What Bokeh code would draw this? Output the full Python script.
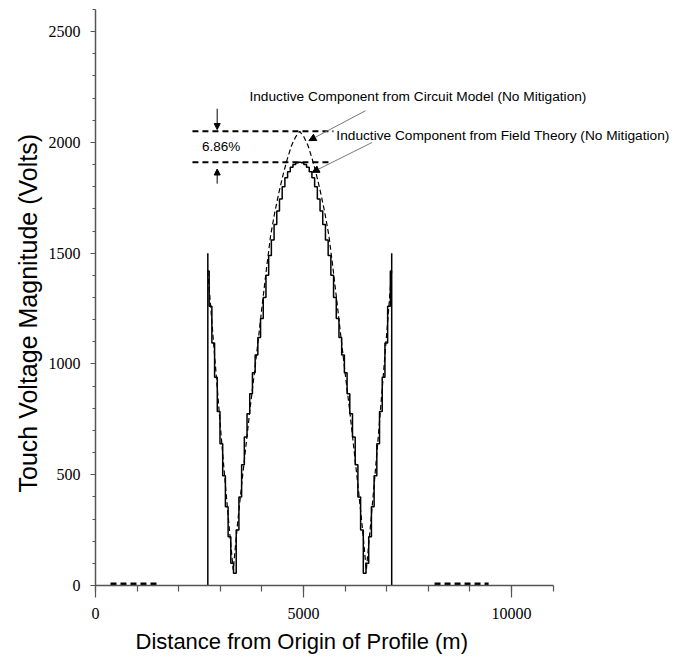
from bokeh.plotting import figure
from bokeh.models import Range1d, SingleIntervalTicker, Title, Arrow, NormalHead
from bokeh.embed import file_html
from bokeh.resources import INLINE
from bokeh.core.properties import value

# ---------------- data ----------------
# Field theory (solid, staircase), sampled every 65 m from 2700 m
field_start = 2700
field_step = 65
field_v = [1420, 1260, 1095, 940, 785, 640, 495, 355, 220, 100, 55,
           250, 400, 545, 670, 775, 865, 960, 1040, 1120, 1205, 1300, 1400,
           1490, 1560, 1630, 1690, 1745, 1800, 1840, 1868, 1888, 1900, 1908,
           1910,
           1908, 1900, 1888, 1868, 1840, 1800, 1745, 1690, 1630, 1560, 1490,
           1400, 1300, 1205, 1120, 1040, 960, 865, 775, 670, 545, 400, 250, 55,
           100, 220, 355, 495, 640, 785, 940, 1095, 1260, 1420]
field_x = [field_start + field_step * i for i in range(len(field_v))]
field_edge_x = [2700, 7120]
field_edge_top = [1500, 1500]
field_zero_x0 = [7120]
field_zero_x1 = [9450]

# Circuit model (dashed)
circuit_x = [2700, 2810, 2910, 3010, 3110, 3210, 3310, 3410, 3510, 3610, 3710,
             3810, 3910, 4010, 4110, 4210, 4310, 4410, 4510, 4610, 4710, 4810,
             4910, 5010, 5110, 5210, 5310, 5410, 5510, 5610, 5710, 5810, 5910,
             6010, 6110, 6210, 6310, 6410, 6510, 6610, 6710, 6810, 6910, 7010,
             7120]
circuit_v = [1420, 1160, 930, 700, 480, 270, 70, 270, 450, 620, 790,
             945, 1105, 1270, 1430, 1580, 1685, 1775, 1855, 1925, 1985, 2025,
             2050, 2025, 1985, 1925, 1855, 1775, 1685, 1580, 1430, 1270, 1105,
             945, 790, 620, 450, 270, 70, 270, 480, 700, 930, 1160, 1420]
circuit_tail_x0 = [360, 8150]
circuit_tail_x1 = [1560, 9450]
circuit_tail_v = [8, 8]

# Peak reference lines (6.86 % difference)
peak_circuit = 2050
peak_field = 1910
ref_x0 = [2330, 2330]
ref_x1 = [5720, 5680]

# Annotation texts
txt_circuit = "Inductive Component from Circuit Model (No Mitigation)"
txt_field = "Inductive Component from Field Theory (No Mitigation)"
txt_pct = "6.86%"
txt_x = [3700, 5790, 2560]
txt_y = [2208, 2032, 1980]

# axis labels / ranges
x_title = "Distance from Origin of Profile (m)"
y_title = "Touch Voltage Magnitude (Volts)"
x_axis_max = 11000
y_axis_max = 2600

# ---------------- figure ----------------
p = figure(width=673, height=662, output_backend="svg", toolbar_location=None,
           x_range=Range1d(0, 13894), y_range=Range1d(0, y_axis_max),
           min_border_left=95, min_border_right=0, min_border_top=9,
           min_border_bottom=77)
p.outline_line_color = None
p.grid.visible = False
p.background_fill_color = "white"
p.border_fill_color = "white"

axis_col = "#555555"
for ax in (p.xaxis[0], p.yaxis[0]):
    ax.axis_line_color = axis_col
    ax.axis_line_width = 1.5
    ax.major_tick_line_color = axis_col
    ax.minor_tick_line_color = axis_col
    ax.major_tick_line_width = 1.2
    ax.minor_tick_line_width = 1.2
    ax.major_tick_in = 0
    ax.minor_tick_in = 0
    ax.major_label_text_font = "Liberation Serif"
    ax.major_label_text_font_size = "16px"
    ax.major_label_text_color = "black"
    ax.major_label_standoff = 10

p.xaxis.ticker = SingleIntervalTicker(interval=5000, num_minor_ticks=5)
p.xaxis.bounds = (0, x_axis_max)
p.xaxis.major_tick_out = 12
p.xaxis.minor_tick_out = 6

p.yaxis.ticker = SingleIntervalTicker(interval=500, num_minor_ticks=5)
p.yaxis.bounds = (0, y_axis_max)
p.yaxis.major_tick_out = 5
p.yaxis.minor_tick_out = 3

p.add_layout(Title(text=y_title, align="left", offset=93,
                   text_font="Liberation Sans", text_font_size="25px",
                   text_font_style="normal", text_color="black",
                   standoff=8), "left")
p.add_layout(Title(text=x_title, align="left", offset=40,
                   text_font="Liberation Sans", text_font_size="22px",
                   text_font_style="normal", text_color="black"), "below")

# ---------------- curves ----------------
p.segment(x0=circuit_tail_x0, y0=circuit_tail_v, x1=circuit_tail_x1,
          y1=circuit_tail_v, line_color="black", line_width=2.5,
          line_dash="6 4")
p.segment(x0=field_zero_x0, y0=0, x1=field_zero_x1, y1=0,
          line_color="black", line_width=1.2)
p.line(circuit_x, circuit_v, line_color="black", line_width=1.2,
       line_dash="5 3")
p.step(field_x, field_v, mode="center", line_color="black", line_width=1.5)
p.segment(x0=field_edge_x, y0=0, x1=field_edge_x, y1=field_edge_top,
          line_color="black", line_width=1.5)

# ---------------- annotations ----------------
p.segment(x0=ref_x0, y0=[peak_circuit, peak_field], x1=ref_x1,
          y1=[peak_circuit, peak_field], line_color="black", line_width=2,
          line_dash="6 4")

p.text(x=txt_x[:2], y=txt_y[:2], text=[txt_circuit, txt_field],
       text_font=value("Liberation Sans"), text_font_size="13.7px",
       text_align="left", text_baseline="middle", text_color="black")
p.text(x=txt_x[2:], y=txt_y[2:], text=[txt_pct],
       text_font=value("Liberation Sans"), text_font_size="13.5px",
       text_align="left", text_baseline="middle", text_color="black")

arrow_x = 2925
p.add_layout(Arrow(end=NormalHead(size=6, fill_color="black", line_color="black"),
                   x_start=arrow_x, y_start=2152, x_end=arrow_x, y_end=peak_circuit + 8,
                   line_color="black", line_width=1))
p.add_layout(Arrow(end=NormalHead(size=6, fill_color="black", line_color="black"),
                   x_start=arrow_x, y_start=1814, x_end=arrow_x, y_end=peak_field - 30,
                   line_color="black", line_width=1))

p.add_layout(Arrow(end=NormalHead(size=7, fill_color="black", line_color="black"),
                   x_start=6490, y_start=2143, x_end=5130, y_end=2008,
                   line_color="#777777", line_width=1))
p.add_layout(Arrow(end=NormalHead(size=7, fill_color="black", line_color="black"),
                   x_start=6650, y_start=2000, x_end=5208, y_end=1865,
                   line_color="#777777", line_width=1))

open("out.html", "w").write(file_html(p, INLINE))
